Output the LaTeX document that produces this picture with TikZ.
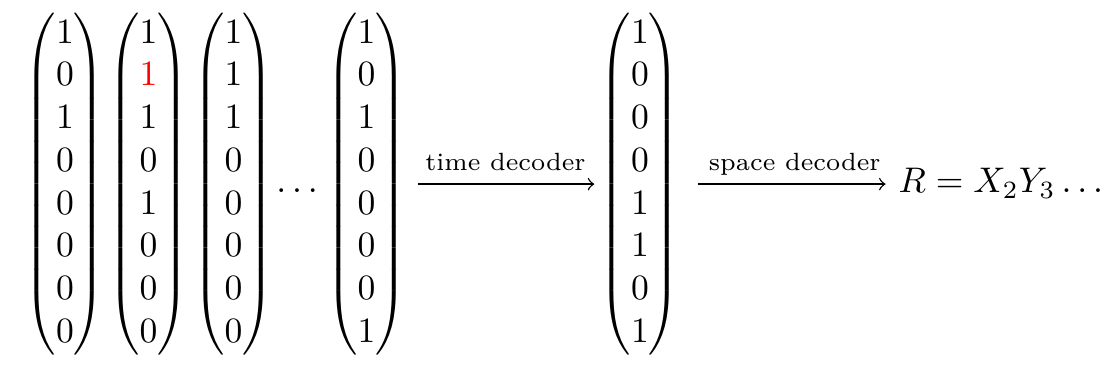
\documentclass[tikz,border=0pt]{standalone}
\usepackage{amsmath}
\begin{document}
\begin{tikzpicture}[x=0.28094pt, y=-0.28094pt,
  every node/.style={inner sep=0pt, anchor=base},
  arr/.style={->, line width=0.4pt},
  lab/.style={font=\scriptsize, anchor=base, yshift=3.8pt}]
\useasboundingbox (0,0) rectangle (1103,368);
\node (m1) at (65,193) {$\begin{pmatrix}1\\0\\1\\0\\0\\0\\0\\0\end{pmatrix}$};
\node (m2) at (148.5,193) {$\begin{pmatrix}1\\\textcolor{red}{1}\\1\\0\\1\\0\\0\\0\end{pmatrix}$};
\node (m3) at (233.5,193) {$\begin{pmatrix}1\\1\\1\\0\\0\\0\\0\\0\end{pmatrix}$};
\node (dots) at (300,193) {$\dots$};
\node (m4) at (366.5,193) {$\begin{pmatrix}1\\0\\1\\0\\0\\0\\0\\1\end{pmatrix}$};
\node (m5) at (640,193) {$\begin{pmatrix}1\\0\\0\\0\\1\\1\\0\\1\end{pmatrix}$};
\node[anchor=base west] (r) at (898,193) {$R = X_2Y_3\dots$};
\draw[arr, shorten <=3.1pt, shorten >=1.4pt] (m4.east) -- (m5.west)
  node[lab, midway, xshift=0.6pt] {time decoder};
\draw[arr, shorten <=4.8pt, shorten >=3.5pt] (m5.east) -- (m5.east -| r.west)
  node[lab, midway, xshift=1.5pt] {space decoder};
\end{tikzpicture}
\end{document}
